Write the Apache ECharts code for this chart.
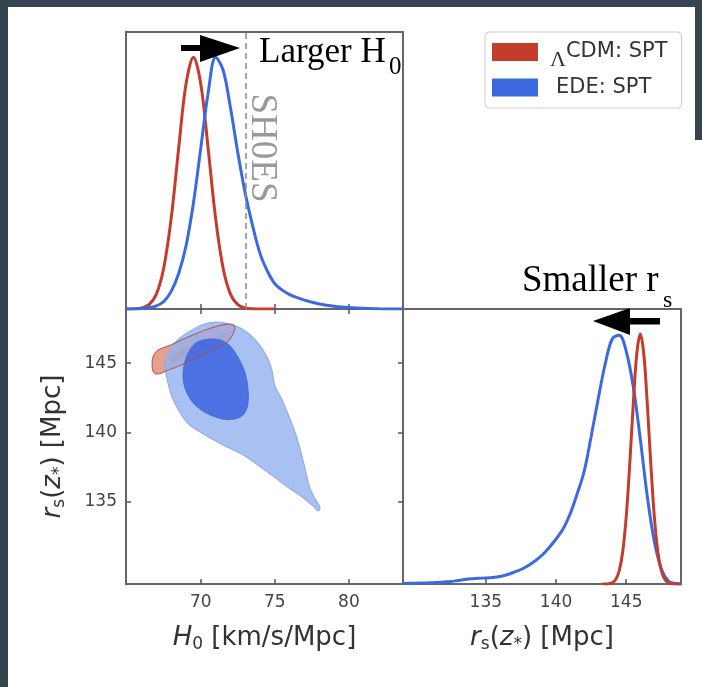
<!DOCTYPE html>
<html>
<head>
<meta charset="utf-8">
<title>EDE vs LCDM: H0 and r_s posteriors</title>
<script src="https://cdn.jsdelivr.net/npm/echarts@6.0.0/dist/echarts.min.js"></script>
<style>
  html, body { margin: 0; padding: 0; background: #fff; }
  #main { width: 702px; height: 687px; }
</style>
</head>
<body>
<div id="main"></div>
<script>
// ---- values ----
var h0Ticks = [70, 75, 80];
var rsTicks = [135, 140, 145];
var shoesH0 = 73.04;

// H0 1D posteriors (top panel), peak = 1
var h0X = [64.95, 65.5, 66, 66.5, 67, 67.5, 68, 68.5, 69, 69.5, 70, 70.5, 71, 71.5, 72, 72.5,
           73, 73.5, 74, 74.5, 75, 75.5, 76, 76.5, 77, 77.5, 78, 78.5, 79, 79.5, 80, 81, 82, 83.65];
var lcdmH0 = [0, 0.001, 0.004, 0.017, 0.059, 0.164, 0.36, 0.635, 0.893, 1.0, 0.893, 0.635, 0.36, 0.164, 0.059, 0.017,
              0.004, 0.001, 0, 0, 0];
var edeH0 = [0, 0, 0.002, 0.005, 0.012, 0.03, 0.07, 0.14, 0.25, 0.42, 0.64, 0.86, 1.0, 0.95, 0.8, 0.62,
             0.46, 0.33, 0.22, 0.15, 0.1, 0.075, 0.057, 0.045, 0.035, 0.027, 0.02, 0.015, 0.011, 0.008, 0.006, 0.003, 0.001, 0];

// r_s 1D posteriors (right panel), peak = 1
var rsX = [129.1, 130, 130.5, 131, 131.5, 132, 132.5, 133, 133.5, 134, 134.5, 135, 135.5, 136, 136.5, 137, 137.5,
           138, 138.5, 139, 139.5, 140, 140.5, 141, 141.5, 142, 142.5, 143, 143.5, 144, 144.5, 145, 145.5,
           146, 146.5, 147, 147.5, 148, 148.5, 148.9];
var edeRs = [0.002, 0.003, 0.004, 0.005, 0.006, 0.008, 0.01, 0.014, 0.018, 0.021, 0.023, 0.024, 0.026, 0.03, 0.037, 0.047, 0.058,
             0.073, 0.092, 0.115, 0.145, 0.18, 0.22, 0.28, 0.36, 0.45, 0.59, 0.74, 0.88, 0.98, 0.995, 0.93, 0.79,
             0.58, 0.35, 0.17, 0.06, 0.012, 0.002, 0];
var lcdmRsX = [143.3, 143.5, 143.75, 144, 144.25, 144.5, 144.75, 145, 145.25, 145.5, 145.75, 146, 146.25, 146.5,
               146.75, 147, 147.25, 147.5, 147.75, 148, 148.25, 148.5, 148.9];
var lcdmRs = [0, 0.0003, 0.0014, 0.005, 0.018, 0.053, 0.13, 0.27, 0.48, 0.72, 0.92, 1.0, 0.92, 0.72,
              0.48, 0.27, 0.13, 0.053, 0.018, 0.005, 0.0014, 0, 0];

// 2D contours [H0, r_s]
var edeOuter = [[67.68, 144.10], [68.02, 142.67], [68.58, 141.48], [69.14, 140.65], [69.93, 140.06], [71.28, 139.23],
  [72.86, 138.39], [74.44, 137.21], [75.79, 136.14], [76.91, 135.31], [77.59, 134.71], [77.93, 134.36], [78.04, 134.64],
  [77.77, 135.12], [77.36, 136.02], [77.03, 137.44], [76.69, 138.87], [76.35, 140.06], [76.01, 141.01], [75.45, 142.43],
  [75.0, 143.38], [74.78, 144.57], [74.44, 145.52], [73.76, 146.59], [72.86, 147.42], [72.07, 147.78], [71.06, 147.95],
  [70.16, 147.78], [69.26, 147.30], [68.47, 146.71], [67.91, 146.0], [67.57, 145.17]];
var edeInner = [[69.93, 146.59], [71.06, 146.71], [71.85, 146.35], [72.45, 145.52], [72.97, 144.34], [73.20, 142.91],
  [73.09, 141.72], [72.64, 141.13], [71.73, 140.96], [70.61, 141.29], [69.71, 141.91], [69.10, 142.79], [68.81, 143.86],
  [68.92, 145.05], [69.30, 146.0]];
var lcdmOuter = [[66.71, 144.81], [66.78, 145.48], [67.12, 145.95], [67.91, 146.28], [69.03, 146.83], [70.38, 147.42],
  [71.51, 147.78], [72.18, 147.76], [72.30, 147.47], [71.85, 146.59], [70.95, 146.0], [69.71, 145.40], [68.58, 144.81],
  [67.68, 144.45], [67.12, 144.22], [66.82, 144.34]];
var lcdmInner = [[68.02, 145.52], [69.03, 146.12], [70.38, 146.71], [71.51, 147.19], [71.85, 147.07], [71.28, 146.47],
  [69.93, 145.88], [68.58, 145.29], [67.95, 145.05]];

var RED = '#c43c2c', BLUE = '#3b6ae0';
var LCDM = 'ΛCDM: SPT', EDE = 'EDE: SPT';

function zip(xs, ys) {
  return ys.map(function (y, i) { return [xs[i], y]; });
}

function contour(name, pts, fill, stroke, z) {
  return {
    type: 'custom', name: name, xAxisIndex: 1, yAxisIndex: 1, z: z, silent: true,
    data: [pts[0]],
    renderItem: function (params, api) {
      return {
        type: 'polygon',
        shape: { points: pts.map(function (p) { return api.coord(p); }), smooth: 0.35 },
        style: { fill: fill, stroke: stroke, lineWidth: 1.2 }
      };
    }
  };
}

var tickFont = { fontFamily: 'DejaVu Sans', fontSize: 17, color: '#444' };
var nameRich = {
  i: { fontFamily: 'DejaVu Sans', fontStyle: 'italic', fontSize: 26, lineHeight: 30, color: '#333' },
  t: { fontFamily: 'DejaVu Sans', fontSize: 26, lineHeight: 30, color: '#333' },
  sub: { fontFamily: 'DejaVu Sans', fontSize: 17, lineHeight: 17, verticalAlign: 'bottom', color: '#333' }
};
var frame = { show: true, borderColor: '#666', borderWidth: 2, backgroundColor: 'transparent' };
var inTick = function (vals) {
  return { show: true, inside: true, length: 5, customValues: vals, lineStyle: { color: '#555', width: 1.5 } };
};

var chart = echarts.init(document.getElementById('main'));

var option = {
  animation: false,
  backgroundColor: '#fff',
  grid: [
    Object.assign({ left: 126, top: 32, width: 277, height: 277 }, frame),
    Object.assign({ left: 126, top: 309, width: 277, height: 275 }, frame),
    Object.assign({ left: 403, top: 309, width: 278, height: 275 }, frame)
  ],
  xAxis: [
    { gridIndex: 0, type: 'value', min: 64.95, max: 83.65, axisLine: { show: false },
      axisTick: inTick(h0Ticks), axisLabel: { show: false }, splitLine: { show: false } },
    { gridIndex: 1, type: 'value', min: 64.95, max: 83.65, axisLine: { show: false },
      axisTick: inTick(h0Ticks), splitLine: { show: false },
      axisLabel: Object.assign({ customValues: h0Ticks, margin: 10 }, tickFont),
      name: '{i|H}{sub|0}{t| [km/s/Mpc]}', nameLocation: 'middle', nameGap: 39,
      nameTextStyle: { rich: nameRich } },
    { gridIndex: 1, type: 'value', position: 'top', min: 64.95, max: 83.65, axisLine: { show: false },
      axisTick: inTick(h0Ticks), axisLabel: { show: false }, splitLine: { show: false } },
    { gridIndex: 2, type: 'value', min: 129.1, max: 148.9, axisLine: { show: false },
      axisTick: inTick(rsTicks), splitLine: { show: false },
      axisLabel: Object.assign({ customValues: rsTicks, margin: 10 }, tickFont),
      name: '{i|r}{sub|s}{t|(}{i|z}{sub|*}{t|) [Mpc]}', nameLocation: 'middle', nameGap: 39,
      nameTextStyle: { rich: nameRich } }
  ],
  yAxis: [
    { gridIndex: 0, type: 'value', min: 0, max: 1.1, show: false },
    { gridIndex: 1, type: 'value', min: 129.1, max: 148.9, axisLine: { show: false },
      axisTick: inTick(rsTicks), splitLine: { show: false },
      axisLabel: Object.assign({ customValues: rsTicks, margin: 9 }, tickFont),
      name: '{i|r}{sub|s}{t|(}{i|z}{sub|*}{t|) [Mpc]}', nameLocation: 'middle', nameGap: 58, nameRotate: 90,
      nameTextStyle: { rich: nameRich } },
    { gridIndex: 1, type: 'value', position: 'right', min: 129.1, max: 148.9, axisLine: { show: false },
      axisTick: inTick(rsTicks), axisLabel: { show: false }, splitLine: { show: false } },
    { gridIndex: 2, type: 'value', min: 0, max: 1.1, show: false }
  ],
  legend: {
    orient: 'vertical', left: 485, top: 32,
    data: [LCDM, EDE],
    icon: 'rect', itemWidth: 46, itemHeight: 18, itemGap: 6,
    padding: [1, 14, 10, 7],
    borderColor: '#ccc', borderWidth: 1, borderRadius: 4,
    selectedMode: false,
    formatter: function (name) {
      return name === LCDM ? '{lam|Λ}{t|CDM: SPT}' : '{e|EDE: SPT}';
    },
    textStyle: {
      rich: {
        lam: { fontFamily: 'Liberation Serif', fontSize: 22, lineHeight: 18, padding: [16, 0, 0, 7], color: '#333' },
        t: { fontFamily: 'DejaVu Sans', fontSize: 21, lineHeight: 18, color: '#333' },
        e: { fontFamily: 'DejaVu Sans', fontSize: 21, lineHeight: 18, padding: [0, 0, 0, 13], color: '#333' }
      }
    }
  },
  series: [
    { name: LCDM, type: 'line', xAxisIndex: 0, yAxisIndex: 0, data: zip(h0X, lcdmH0), smooth: 0.35,
      showSymbol: false, itemStyle: { color: RED }, lineStyle: { color: RED, width: 3 }, z: 3,
      markLine: {
        silent: true, symbol: 'none', label: { show: false },
        lineStyle: { color: '#888', type: [6, 4], width: 1.5 },
        data: [{ xAxis: shoesH0 }]
      } },
    { name: EDE, type: 'line', xAxisIndex: 0, yAxisIndex: 0, data: zip(h0X, edeH0), smooth: 0.35,
      showSymbol: false, itemStyle: { color: BLUE }, lineStyle: { color: BLUE, width: 3 }, z: 4 },
    { name: EDE, type: 'line', xAxisIndex: 3, yAxisIndex: 3, data: zip(rsX, edeRs), smooth: 0.35,
      showSymbol: false, itemStyle: { color: BLUE }, lineStyle: { color: BLUE, width: 3 }, z: 3 },
    { name: LCDM, type: 'line', xAxisIndex: 3, yAxisIndex: 3, data: zip(lcdmRsX, lcdmRs), smooth: 0.35,
      showSymbol: false, itemStyle: { color: RED }, lineStyle: { color: RED, width: 3 }, z: 4 },
    contour(LCDM, lcdmOuter, '#e8a08c', 'none', 2),
    contour(LCDM, lcdmInner, '#d9786a', 'none', 2),
    contour(EDE, edeOuter, 'rgba(146,176,239,0.8)', '#93ade8', 3),
    contour(EDE, edeInner, 'rgba(60,100,224,0.85)', '#4a6fd8', 4),
    contour(LCDM, lcdmOuter, 'none', 'rgba(170,80,80,0.8)', 5)
  ],
  graphic: [
    // dark frame of the screenshot
    { type: 'rect', shape: { x: 0, y: 0, width: 702, height: 7 }, style: { fill: '#34454f' }, silent: true },
    { type: 'rect', shape: { x: 0, y: 0, width: 8, height: 687 }, style: { fill: '#34454f' }, silent: true },
    { type: 'rect', shape: { x: 695, y: 0, width: 7, height: 140 }, style: { fill: '#34454f' }, silent: true },
    // Larger H0 arrow + text
    { type: 'rect', shape: { x: 181, y: 45, width: 22, height: 6 }, style: { fill: '#000' }, z: 10 },
    { type: 'polygon', shape: { points: [[200, 35], [240, 48], [200, 62]] }, style: { fill: '#000' }, z: 10 },
    { type: 'text', x: 259, y: 53, z: 10,
      style: { text: 'Larger H', font: '35px "Liberation Serif"', fill: '#000', verticalAlign: 'middle' } },
    { type: 'text', x: 389, y: 67, z: 10,
      style: { text: '0', font: '25px "Liberation Serif"', fill: '#000', verticalAlign: 'middle' } },
    { type: 'text', x: 262, y: 148, rotation: -Math.PI / 2, z: 10,
      style: { text: 'SH0ES', font: '37px "Liberation Serif"', fill: '#999', align: 'center', verticalAlign: 'middle' } },
    // Smaller r_s arrow + text
    { type: 'rect', shape: { x: 628, y: 318, width: 32, height: 6.5 }, style: { fill: '#000' }, z: 10 },
    { type: 'polygon', shape: { points: [[630, 308], [593, 321], [630, 335]] }, style: { fill: '#000' }, z: 10 },
    { type: 'text', x: 522, y: 281, z: 10,
      style: { text: 'Smaller r', font: '37px "Liberation Serif"', fill: '#000', verticalAlign: 'middle' } },
    { type: 'text', x: 663, y: 301, z: 10,
      style: { text: 's', font: '24px "Liberation Serif"', fill: '#000', verticalAlign: 'middle' } }
  ]
};

chart.setOption(option);
</script>
</body>
</html>
